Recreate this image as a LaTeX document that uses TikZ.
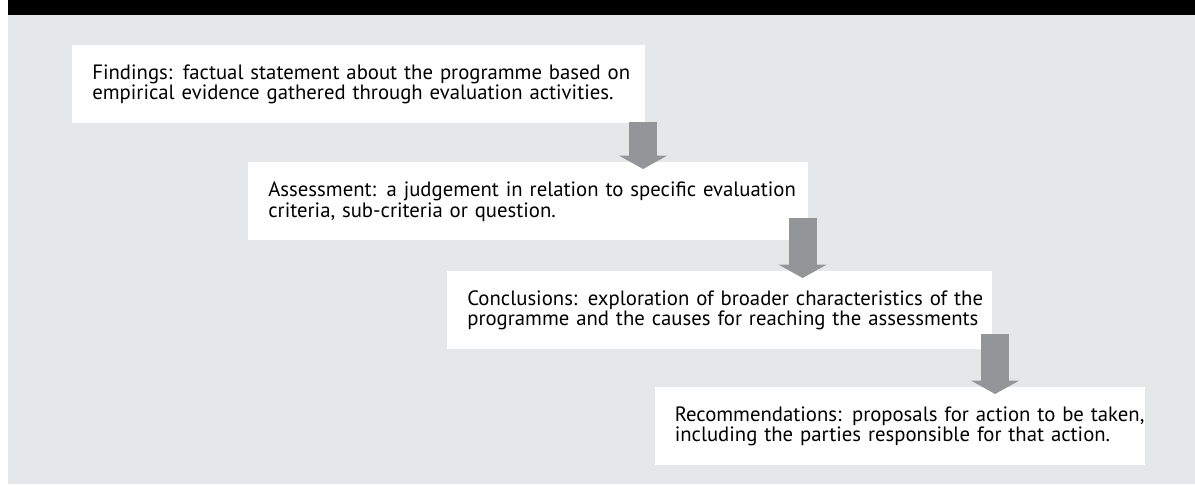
\documentclass[tikz,border=0pt]{standalone}
\usepackage{fontspec}
\setmainfont{PT Sans}
\usetikzlibrary{arrows.meta,calc}

\definecolor{panelgray}{HTML}{E6E7E8}
\definecolor{arrowgray}{HTML}{939598}

\tikzset{
 card/.style={fill=white, anchor=north west, align=left, inner xsep=0.4cm,
   inner ysep=0pt, minimum height=1.56cm,
   font=\fontsize{11.8pt}{11.8pt}\selectfont},
 downarrow/.style={draw=arrowgray, line width=0.56cm,
   -{Triangle[width=0.96cm,length=0.27cm]}}
}

\begin{document}
\begin{tikzpicture}[x=0.02cm,y=-0.02cm]
 \useasboundingbox (0,0) rectangle (1195,484);
 \fill[white] (0,0) rectangle (1195,484);
 \fill[panelgray] (8,15) rectangle (1195,484);
 \fill[black] (8,0) rectangle (1195,15);
 % the four steps
 \node[card, text width=10.66cm] (find) at (72,45)
   {\mbox{Findings: factual statement about the programme based on}\\
    \mbox{empirical evidence gathered through evaluation activities.}};
 \node[card, text width=10.4cm] (assess) at (248,162)
   {\mbox{Assessment: a judgement in relation to specific evaluation}\\
    \mbox{criteria, sub-criteria or question.}};
 \node[card, text width=10.1cm] (concl) at (447,271)
   {\mbox{Conclusions: exploration of broader characteristics of the}\\
    \mbox{programme and the causes for reaching the assessments}};
 \node[card, anchor=north east, text width=9.0cm] (recom) at (1145,387)
   {\mbox{Recommendations: proposals for action to be taken,}\\
    \mbox{including the parties responsible for that action.}};
 % arrows between the steps
 \draw[downarrow] ($(find.south east)+(-2.5,-2)$) -- ($(find.south east |- assess.north)+(-2.5,7)$);
 \draw[downarrow] ($(assess.south east)+(-6,-23)$) -- ($(assess.south east |- concl.north)+(-6,7)$);
 \draw[downarrow] ($(concl.south east)+(2.5,-16)$) -- ($(concl.south east |- recom.north)+(2.5,7)$);
\end{tikzpicture}
\end{document}
